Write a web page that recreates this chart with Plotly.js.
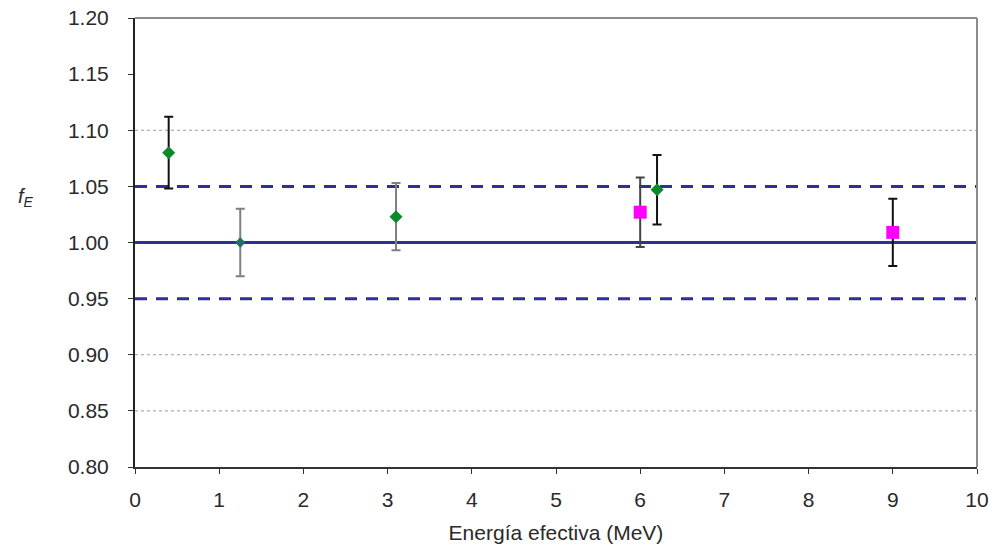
<!DOCTYPE html>
<html>
<head>
<meta charset="utf-8">
<script src="https://cdn.plot.ly/plotly-3.0.1.min.js"></script>
<style>html,body{margin:0;padding:0;background:#fff;}#chart{width:994px;height:550px;}</style>
</head>
<body>
<div id="chart"></div>
<script>
// Green diamonds (black error bars)
const greenBlackX = [0.4, 6.2];
const greenBlackY = [1.080, 1.047];
const greenBlackErr = [0.032, 0.031];
// Green diamond (gray error bar)
const greenGrayX = [3.1];
const greenGrayY = [1.023];
const greenGrayErr = [0.030];
// Teal diamond (gray error bar)
const tealX = [1.25];
const tealY = [1.000];
const tealErr = [0.030];
// Magenta squares
const magDarkX = [6.0];
const magDarkY = [1.027];
const magDarkErr = [0.031];
const magBlackX = [9.0];
const magBlackY = [1.009];
const magBlackErr = [0.030];
// Reference lines
const refSolid = [1.00];
const refDashed = [1.05, 0.95];
const gridVals = [1.10, 0.90, 0.85];
const yTicks = [0.80, 0.85, 0.90, 0.95, 1.00, 1.05, 1.10, 1.15, 1.20];
const xTicks = [0,1,2,3,4,5,6,7,8,9,10];

function ptTrace(x, y, err, ecolor, mcolor, symbol, size) {
  return {
    x: x, y: y, type: 'scatter', mode: 'markers',
    marker: {color: mcolor, symbol: symbol, size: size, line: {width: 0}},
    error_y: {type: 'data', array: err, visible: true, color: ecolor, thickness: 2, width: 4.5},
    hoverinfo: 'x+y', showlegend: false
  };
}

const lineColor = '#2e3192';
const shapes = [];
gridVals.forEach(v => shapes.push({type:'line', xref:'paper', x0:0, x1:1, yref:'y', y0:v, y1:v,
  line:{color:'#9a9a9a', width:1, dash:'dot'}, layer:'below'}));
refDashed.forEach(v => shapes.push({type:'line', xref:'paper', x0:0, x1:1, yref:'y', y0:v, y1:v,
  line:{color:lineColor, width:3, dash:'12px,9px'}, layer:'below'}));
refSolid.forEach(v => shapes.push({type:'line', xref:'paper', x0:0, x1:1, yref:'y', y0:v, y1:v,
  line:{color:lineColor, width:3}, layer:'below'}));
// top & right border (gray)
shapes.push({type:'line', xref:'paper', yref:'paper', x0:0, x1:1, y0:1, y1:1, line:{color:'#8c8c8c', width:2}});
shapes.push({type:'line', xref:'paper', yref:'paper', x0:1, x1:1, y0:0, y1:1, line:{color:'#8c8c8c', width:2}});

const data = [
  ptTrace(tealX, tealY, tealErr, '#808080', '#1f6f6a', 'diamond', 8),
  ptTrace(greenGrayX, greenGrayY, greenGrayErr, '#808080', '#0a8a2a', 'diamond', 10),
  ptTrace(greenBlackX, greenBlackY, greenBlackErr, '#111111', '#0a8a2a', 'diamond', 10),
  ptTrace(magDarkX, magDarkY, magDarkErr, '#444444', '#ff00ff', 'square', 13),
  ptTrace(magBlackX, magBlackY, magBlackErr, '#111111', '#ff00ff', 'square', 13)
];

const fam = 'Liberation Sans, Arial, sans-serif';
const tickFont = {family: fam, size: 21, color: '#2a2a2a'};
const titleFont = {family: fam, size: 21, color: '#2a2a2a'};

const layout = {
  width: 994, height: 550,
  margin: {l: 135, r: 17, t: 18, b: 83},
  paper_bgcolor: '#ffffff', plot_bgcolor: '#ffffff',
  font: tickFont,
  showlegend: false,
  xaxis: {
    range: [0, 10], tickvals: xTicks, ticktext: xTicks.map(String),
    showgrid: false, zeroline: false,
    showline: true, linecolor: '#333333', linewidth: 2,
    ticks: 'outside', ticklen: 5, tickwidth: 1, tickcolor: '#333333',
    ticklabelstandoff: 8, tickfont: tickFont,
    title: {text: 'Energía efectiva (MeV)', font: titleFont, standoff: 15}
  },
  yaxis: {
    range: [0.80, 1.20], tickvals: yTicks, ticktext: yTicks.map(v => v.toFixed(2)),
    showgrid: false, zeroline: false,
    showline: true, linecolor: '#222222', linewidth: 2,
    ticks: 'outside', ticklen: 5, tickwidth: 1, tickcolor: '#333333',
    ticklabelstandoff: 15, tickfont: tickFont
  },
  annotations: [{
    text: '<i>f</i><sub><i>E</i></sub>', xref: 'paper', yref: 'paper',
    x: -0.13, y: 0.6, xanchor: 'center', yanchor: 'middle', showarrow: false,
    font: {family: fam, size: 20, color: '#2a2a2a'}
  }],
  shapes: shapes
};

Plotly.newPlot('chart', data, layout, {displayModeBar: false, staticPlot: true});
</script>
</body>
</html>
